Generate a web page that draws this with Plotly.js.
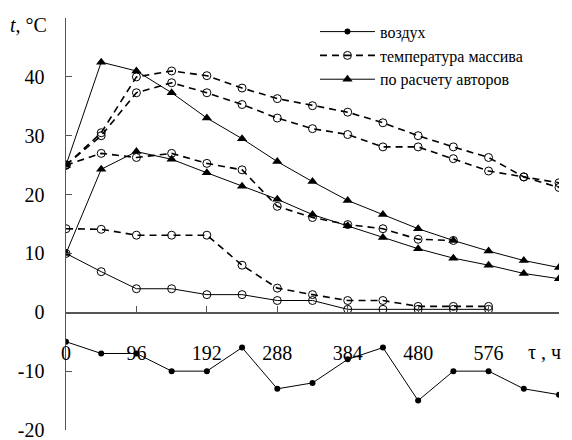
<!DOCTYPE html>
<html>
<head>
<meta charset="utf-8">
<script src="https://cdn.plot.ly/plotly-3.0.1.min.js"></script>
<style>
html,body{margin:0;padding:0;background:#fff;}
#chart{width:572px;height:440px;}
</style>
</head>
<body>
<div id="chart"></div>
<script>
// time, hours
var hours = [0,48,96,144,192,240,288,336,384,432,480,528,576,624,672];
var xTickVals = [0,96,192,288,384,480,576,672];
var xTickText = ['0','96','192','288','384','480','576',''];
var yTickVals = [-20,-10,0,10,20,30,40,50];
var yTickText = ['-20','-10','0','10','20','30','40',''];

// воздух
var air = [-5,-7,-7,-10,-10,-6,-13,-12,-8,-6,-15,-10,-10,-13,-14];
// температура массива (measured)
var mass1 = [25,30.5,40,41,40.2,38.1,36.3,35.1,34,32.2,30,28.1,26.3,23,22];
var mass2 = [25,30,37.3,39,37.3,35.3,33,31.2,30.2,28.1,28.1,26.1,24,23,21.2];
var mass3 = [25,27,26.3,27,25.3,24.2,18,16.1,14.9,14.2,12.4,12.2];
var mass4 = [14.2,14.1,13.1,13.1,13.1,8,4.1,3,2,2,1,1,1];
var mass5 = [10,6.9,4,4,3,3,2,2,0.5,0.5,0.5,0.5,0.5];
// по расчету авторов
var calc1 = [25,42.5,41,37.3,33,29.5,25.6,22.2,19,16.6,14.2,12.2,10.4,8.8,7.6];
var calc2 = [10,24.3,27.3,26,23.7,21.4,19.2,16.6,14.7,12.7,10.8,9.2,8,6.6,5.7];

var names = ['воздух','температура массива','по расчету авторов'];

var dashStyle = {color:'#000', width:1.6, dash:'7px,5px'};
var openMarker = {symbol:'circle-open', size:8, color:'#000', line:{width:1, color:'#000'}};
var triMarker = {symbol:'triangle-up', size:9, color:'#000'};

function sub(arr){ return hours.slice(0, arr.length); }

var traces = [
  {x:sub(air), y:air, name:names[0], mode:'lines+markers', line:{color:'#000',width:1},
   marker:{symbol:'circle', size:6, color:'#000'}},
  {x:sub(mass1), y:mass1, name:names[1], mode:'lines+markers', line:dashStyle, marker:openMarker, legendgroup:'m'},
  {x:sub(mass2), y:mass2, name:names[1], mode:'lines+markers', line:dashStyle, marker:openMarker, legendgroup:'m', showlegend:false},
  {x:sub(mass3), y:mass3, name:names[1], mode:'lines+markers', line:dashStyle, marker:openMarker, legendgroup:'m', showlegend:false},
  {x:sub(mass4), y:mass4, name:names[1], mode:'lines+markers', line:dashStyle, marker:openMarker, legendgroup:'m', showlegend:false},
  {x:sub(mass5), y:mass5, name:names[1], mode:'lines+markers', line:{color:'#000',width:1}, marker:openMarker, legendgroup:'m', showlegend:false},
  {x:sub(calc1), y:calc1, name:names[2], mode:'lines+markers', line:{color:'#000',width:1}, marker:triMarker, legendgroup:'c'},
  {x:sub(calc2), y:calc2, name:names[2], mode:'lines+markers', line:{color:'#000',width:1}, marker:triMarker, legendgroup:'c', showlegend:false}
];

var serif = 'Liberation Serif';

var layout = {
  width:572, height:440,
  margin:{l:66, r:13, t:18, b:10},
  paper_bgcolor:'#fff', plot_bgcolor:'#fff',
  font:{family:serif, color:'#000', size:18},
  showlegend:true,
  legend:{x:0.505, y:1.008, xanchor:'left', yanchor:'top', bgcolor:'rgba(0,0,0,0)',
          font:{family:serif, size:16, color:'#000'}, itemwidth:55, tracegroupgap:0,
          traceorder:'normal'},
  xaxis:{range:[0,672], tickvals:xTickVals, ticktext:xTickText, showgrid:false, zeroline:false,
         showline:true, linecolor:'#555', linewidth:1.5, ticks:'inside', ticklen:6, tickcolor:'#555',
         anchor:'free', position:20/70, ticklabelstandoff:22, ticklabeloverflow:'allow',
         tickfont:{family:serif,size:20,color:'#000'}},
  yaxis:{range:[-20,50], tickvals:yTickVals, ticktext:yTickText, showgrid:false, zeroline:false,
         showline:true, linecolor:'#555', linewidth:1.5, ticks:'inside', ticklen:6, tickcolor:'#555',
         ticklabelstandoff:16, ticklabeloverflow:'allow', tickfont:{family:serif,size:20,color:'#000'}},
  annotations:[
    {xref:'paper', yref:'paper', x:-0.1176, y:0.983, xanchor:'left', yanchor:'middle', showarrow:false,
     text:'<i>t</i>, °C', font:{family:serif, size:20, color:'#000'}},
    {xref:'x', yref:'y', x:652, y:-6.8, xanchor:'center', yanchor:'middle', showarrow:false,
     text:'τ , ч', font:{family:serif, size:20, color:'#000'}}
  ]
};

Plotly.newPlot('chart', traces, layout, {staticPlot:true, displayModeBar:false});
</script>
</body>
</html>
